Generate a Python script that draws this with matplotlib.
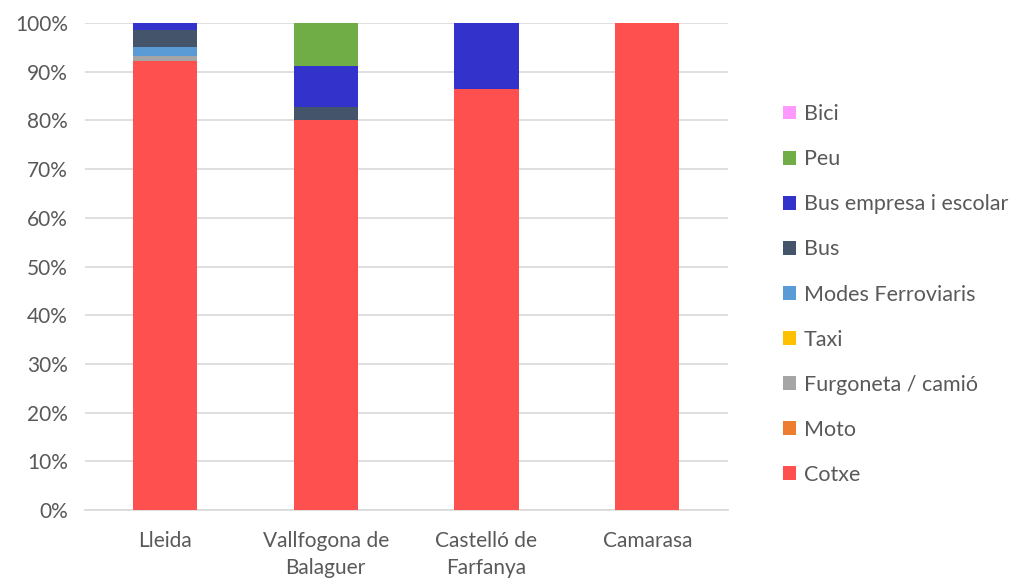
import matplotlib
matplotlib.use("Agg")
import matplotlib.pyplot as plt
import numpy as np

plt.rcParams['font.family'] = ['Lato', 'DejaVu Sans']

# categories and shares (%) per transport mode
places = ["Lleida", "Vallfogona de\nBalaguer", "Castelló de\nFarfanya", "Camarasa"]
modes = ["Cotxe", "Moto", "Furgoneta / camió", "Taxi", "Modes Ferroviaris",
         "Bus", "Bus empresa i escolar", "Peu", "Bici"]
cotxe = [92.2, 80.1, 86.4, 100.0]
moto = [0.0, 0.0, 0.0, 0.0]
furgoneta = [1.1, 0.0, 0.0, 0.0]
taxi = [0.0, 0.0, 0.0, 0.0]
ferroviaris = [1.8, 0.0, 0.0, 0.0]
bus = [3.4, 2.7, 0.0, 0.0]
bus_empresa = [1.5, 8.4, 13.6, 0.0]
peu = [0.0, 8.8, 0.0, 0.0]
bici = [0.0, 0.0, 0.0, 0.0]

colors = ["#FF5050", "#ED7D31", "#A5A5A5", "#FFC000", "#5B9BD5",
          "#44546A", "#3333CC", "#70AD47", "#FF99FF"]

series = [cotxe, moto, furgoneta, taxi, ferroviaris, bus, bus_empresa, peu, bici]

fig = plt.figure(figsize=(10.16, 5.81), dpi=100)
ax = fig.add_axes([0.0832, 0.1222, 0.633, 0.838])

x = np.arange(len(places))
bottom = np.zeros(len(places))
handles = []
for vals, name, c in zip(series, modes, colors):
    vals = np.array(vals)
    h = ax.bar(x, vals / 100.0, 0.4, bottom=bottom / 100.0, color=c, label=name, zorder=3)
    handles.append(h)
    bottom += vals

ax.set_xlim(-0.5, len(places) - 0.5)
ax.set_ylim(0, 1)
ax.set_yticks(np.arange(0, 1.01, 0.1))
ax.set_yticklabels([f"{int(round(v * 100))}%" for v in np.arange(0, 1.01, 0.1)])
ax.set_xticks(x)
ax.set_xticklabels(places, linespacing=1.45)
ax.grid(axis='y', color='#D9D9D9', linewidth=1.2, zorder=0)
for s in ['top', 'right', 'left']:
    ax.spines[s].set_visible(False)
ax.spines['bottom'].set_color('#D9D9D9')
ax.spines['bottom'].set_linewidth(1.2)
ax.tick_params(axis='both', length=0, labelsize=15, colors='#595959')
ax.tick_params(axis='y', pad=12)
ax.tick_params(axis='x', pad=15)

leg = fig.legend(handles[::-1], modes[::-1], loc='upper left',
                 bbox_to_anchor=(0.752, 0.854), frameon=False, fontsize=15.5,
                 handlelength=0.6, handleheight=0.6, handletextpad=0.35,
                 labelspacing=1.165)
for t in leg.get_texts():
    t.set_color('#595959')

fig.savefig("out.png", dpi=100)
